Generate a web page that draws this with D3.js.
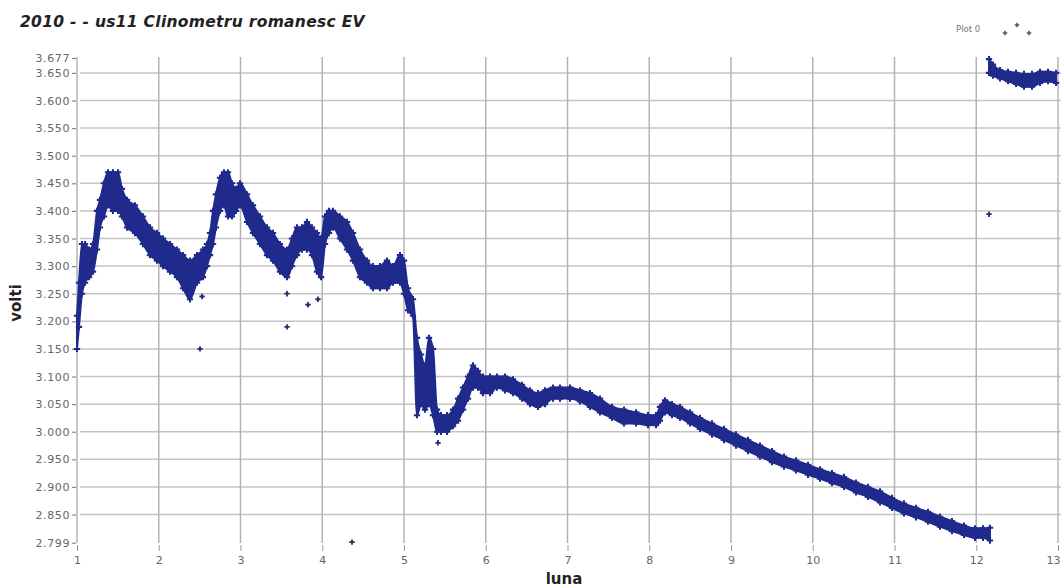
<!DOCTYPE html>
<html>
<head>
<meta charset="utf-8">
<script src="https://cdn.jsdelivr.net/npm/d3@7"></script>
<style>
  html, body { margin: 0; padding: 0; background: #fff; }
  svg { display: block; }
</style>
</head>
<body>
<svg id="chart" width="1061" height="587"></svg>
<script>
// Clinometer voltage over the months of 2010.
// Each reading: month position, lowest and highest voltage seen around it.
const monthA = [1.000,1.024,1.061,1.098,1.147,1.196,1.245,1.281,1.330,1.379,1.440,1.502,1.550,1.612,1.709,1.807,1.893,1.979,2.052,2.138,2.223,2.297,2.382,2.468,2.541,2.590,2.627,2.664,2.700,2.749,2.798,2.847,2.896,2.945,2.994,3.080,3.153,3.239,3.324,3.397,3.483,3.569,3.630,3.691,3.752,3.813,3.875,3.936,3.985,4.034,4.083,4.131,4.217,4.303,4.376,4.462,4.547,4.621,4.706,4.792,4.865,4.951,5.000,5.049,5.110,5.159,5.208,5.257,5.306,5.355,5.404,5.453,5.526,5.600,5.661,5.722,5.783,5.844,5.905,5.966,6.052,6.138,6.235,6.333,6.443,6.541,6.639,6.725,6.823,6.908,7.031,7.153,7.275,7.398,7.544,7.691,7.838,7.985,8.083,8.131,8.193,8.278,8.376,8.499,8.621,8.768,8.914,9.061,9.208,9.355,9.502,9.648,9.795,9.942,10.089,10.235,10.382,10.529,10.676,10.823,10.969,11.116,11.263,11.410,11.557,11.703,11.850,11.985,12.083,12.168];
const lowA = [3.150,3.190,3.250,3.270,3.280,3.290,3.330,3.370,3.390,3.410,3.400,3.400,3.390,3.370,3.360,3.340,3.320,3.310,3.300,3.290,3.280,3.260,3.240,3.270,3.280,3.300,3.320,3.340,3.370,3.400,3.410,3.390,3.390,3.400,3.410,3.380,3.360,3.340,3.320,3.310,3.290,3.280,3.300,3.320,3.330,3.330,3.320,3.290,3.280,3.340,3.360,3.370,3.350,3.330,3.310,3.280,3.270,3.260,3.260,3.260,3.270,3.270,3.250,3.220,3.210,3.030,3.050,3.040,3.050,3.030,3.000,3.000,3.000,3.010,3.020,3.040,3.060,3.080,3.080,3.070,3.070,3.080,3.075,3.070,3.060,3.050,3.045,3.050,3.060,3.060,3.060,3.055,3.045,3.035,3.025,3.015,3.015,3.012,3.012,3.020,3.035,3.030,3.025,3.015,3.005,2.995,2.985,2.975,2.965,2.955,2.945,2.937,2.930,2.922,2.915,2.907,2.900,2.890,2.882,2.872,2.862,2.852,2.845,2.837,2.828,2.820,2.813,2.808,2.808,2.803];
const highA = [3.210,3.270,3.340,3.340,3.330,3.340,3.400,3.420,3.450,3.470,3.470,3.470,3.440,3.420,3.410,3.390,3.370,3.360,3.350,3.340,3.330,3.320,3.310,3.320,3.330,3.340,3.360,3.400,3.430,3.460,3.470,3.470,3.450,3.440,3.450,3.430,3.410,3.390,3.370,3.360,3.340,3.330,3.350,3.370,3.370,3.380,3.370,3.360,3.350,3.390,3.400,3.400,3.390,3.380,3.360,3.330,3.310,3.300,3.300,3.310,3.300,3.320,3.310,3.260,3.240,3.170,3.140,3.120,3.170,3.150,3.040,3.030,3.030,3.040,3.060,3.080,3.100,3.120,3.110,3.100,3.100,3.100,3.100,3.095,3.085,3.075,3.070,3.075,3.080,3.080,3.080,3.075,3.070,3.060,3.045,3.040,3.035,3.030,3.030,3.045,3.057,3.050,3.045,3.035,3.025,3.015,3.005,2.995,2.985,2.975,2.965,2.955,2.948,2.940,2.932,2.925,2.918,2.908,2.900,2.892,2.880,2.870,2.862,2.855,2.846,2.838,2.830,2.825,2.825,2.826];

// December readings after the jump
const monthB = [12.156,12.205,12.291,12.389,12.486,12.584,12.682,12.780,12.878,12.976];
const lowB = [3.650,3.645,3.640,3.635,3.630,3.625,3.625,3.632,3.635,3.632];
const highB = [3.675,3.665,3.655,3.652,3.650,3.648,3.648,3.652,3.652,3.650];

// Isolated readings
const strayMonth = [2.505,2.530,3.569,3.569,3.826,3.948,4.364,5.416,12.156];
const strayValue = [3.150,3.245,3.250,3.190,3.230,3.240,2.800,2.980,3.394];

// Axis ticks
const xTicks = [1,2,3,4,5,6,7,8,9,10,11,12,13];
const yTickValues = [3.677,3.650,3.600,3.550,3.500,3.450,3.400,3.350,3.300,3.250,3.200,3.150,3.100,3.050,3.000,2.950,2.900,2.850,2.799];
const gridValues = [3.650,3.600,3.550,3.500,3.450,3.400,3.350,3.300,3.250,3.200,3.150,3.100,3.050,3.000,2.950,2.900,2.850];

const svg = d3.select("#chart");
const x = d3.scaleLinear().domain([1, 13]).range([77, 1058]);
const y = d3.scaleLinear().domain([2.799, 3.677]).range([542.7, 58]);
const navy = "#1f2a8c";
const font = "'DejaVu Sans', Verdana, sans-serif";

// Title
svg.append("text")
  .attr("x", 20).attr("y", 27)
  .attr("font-family", font).attr("font-size", 15.5)
  .attr("font-weight", "bold").attr("font-style", "italic")
  .attr("letter-spacing", 0.3)
  .attr("fill", "#222")
  .text("2010 -  - us11 Clinometru romanesc EV");

// Gridlines
const grid = svg.append("g");
grid.selectAll("line.h").data(gridValues).join("line")
  .attr("x1", 80).attr("x2", 1061)
  .attr("y1", d => y(d)).attr("y2", d => y(d))
  .attr("stroke", "#c4c4c4").attr("stroke-width", 1.5);
grid.selectAll("line.v").data(xTicks).join("line")
  .attr("x1", d => x(d)).attr("x2", d => x(d))
  .attr("y1", 57).attr("y2", 543)
  .attr("stroke", "#b4b4b4").attr("stroke-width", 1.5);

// Y axis
const yAxis = d3.axisLeft(y).tickValues(yTickValues)
  .tickFormat(d3.format(".3f")).tickSize(4).tickPadding(2);
const gy = svg.append("g").attr("transform", "translate(76,0)").call(yAxis);
gy.select(".domain").remove();
gy.selectAll(".tick line").attr("stroke", "#888").attr("stroke-width", 1.2);
gy.selectAll(".tick text").attr("font-family", font).attr("font-size", 11)
  .attr("letter-spacing", 0.6).attr("fill", "#666");

// X axis
const xAxis = d3.axisBottom(x).tickValues(xTicks)
  .tickFormat(d3.format("d")).tickSize(6).tickPadding(5);
const gx = svg.append("g").attr("transform", "translate(0,545)").call(xAxis);
gx.select(".domain").remove();
gx.selectAll(".tick line").attr("stroke", "#999").attr("stroke-width", 1);
gx.selectAll(".tick text").attr("font-family", font).attr("font-size", 11)
  .attr("fill", "#666");
// last label sits against the right edge
gx.selectAll(".tick text").filter(d => d === 13)
  .attr("text-anchor", "end").attr("x", 2);

// Axis titles
svg.append("text")
  .attr("x", 564).attr("y", 584).attr("text-anchor", "middle")
  .attr("font-family", font).attr("font-size", 15).attr("font-weight", "bold")
  .attr("fill", "#222").text("luna");
svg.append("text")
  .attr("transform", "translate(21,303) rotate(-90)").attr("text-anchor", "middle")
  .attr("font-family", font).attr("font-size", 15).attr("font-weight", "bold")
  .attr("fill", "#222").text("volti");

// Legend
svg.append("text")
  .attr("x", 956).attr("y", 32)
  .attr("font-family", font).attr("font-size", 8.5).attr("fill", "#777")
  .text("Plot 0");
const legendMarks = [[1005, 33], [1017, 25], [1029, 33]];
svg.selectAll("path.leg").data(legendMarks).join("path")
  .attr("transform", d => `translate(${d[0]},${d[1]})`)
  .attr("d", d3.symbol(d3.symbolCross).size(12))
  .attr("fill", "#555");

// Data band
const plot = svg.append("g");
function band(months, lows, highs) {
  const rows = months.map((m, i) => ({ m, lo: lows[i], hi: highs[i] }));
  const area = d3.area()
    .x(d => x(d.m)).y0(d => y(d.lo)).y1(d => y(d.hi))
    .curve(d3.curveMonotoneX);
  plot.append("path").datum(rows)
    .attr("d", area)
    .attr("fill", navy)
    .attr("stroke", navy).attr("stroke-width", 2)
    .attr("stroke-linejoin", "round");
  const marks = rows.flatMap(d => [{ m: d.m, v: d.lo }, { m: d.m, v: d.hi }]);
  plot.selectAll(null).data(marks).join("path")
    .attr("transform", d => `translate(${x(d.m)},${y(d.v)})`)
    .attr("d", d3.symbol(d3.symbolCross).size(22))
    .attr("fill", navy);
}
band(monthA, lowA, highA);
band(monthB, lowB, highB);

// Isolated readings
plot.selectAll("path.stray").data(strayMonth).join("path")
  .attr("class", "stray")
  .attr("transform", (d, i) => `translate(${x(d)},${y(strayValue[i])})`)
  .attr("d", d3.symbol(d3.symbolCross).size(16))
  .attr("fill", "#2a2a6a");
</script>
</body>
</html>
